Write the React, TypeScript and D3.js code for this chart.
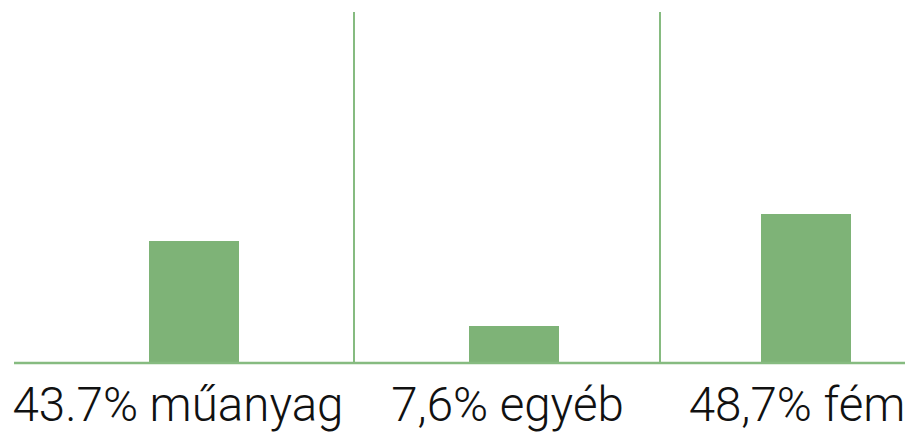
import React from "react";
import * as d3 from "d3";

const categories = ["műanyag", "egyéb", "fém"];
const shareLabels = ["43.7%", "7,6%", "48,7%"];
const barValues = [122, 37, 149];
const barCenters = [194, 514, 806];
const labelCenters = [178, 507.5, 797];

const W = 905;
const H = 432;
const baseY = 363;
const topY = 12;
const barW = 90;
const barColor = "#7eb377";
const lineColor = "#86bb80";

export default function App() {
  const y = d3.scaleLinear().domain([0, baseY - topY]).range([baseY, topY]);
  const x = d3.scaleOrdinal<string, number>().domain(categories).range(barCenters);
  const seps = d3.range(categories.length - 1).map((i) => {
    const r = x(categories[i]) + barW / 2;
    const l = x(categories[i + 1]) - barW / 2;
    return (r + l) / 2;
  });
  return (
    <svg width={W} height={H} style={{ position: "absolute", left: 0, top: 0 }}>
      <rect width={W} height={H} fill="#fff" />
      {categories.map((c, i) => (
        <rect
          key={c}
          x={x(c) - barW / 2}
          y={y(barValues[i])}
          width={barW}
          height={baseY - y(barValues[i])}
          fill={barColor}
        />
      ))}
      {seps.map((s, i) => (
        <line key={i} x1={s} x2={s} y1={topY} y2={baseY} stroke={lineColor} strokeWidth={2} />
      ))}
      <line x1={14} x2={W} y1={baseY} y2={baseY} stroke={lineColor} strokeWidth={2.5} />
      {categories.map((c, i) => (
        <text
          key={c}
          x={labelCenters[i]}
          y={421}
          textAnchor="middle"
          fontFamily="Roboto"
          fontWeight={300}
          fontSize={47.5}
          fill="#111"
        >
          {shareLabels[i]} {c}
        </text>
      ))}
    </svg>
  );
}
